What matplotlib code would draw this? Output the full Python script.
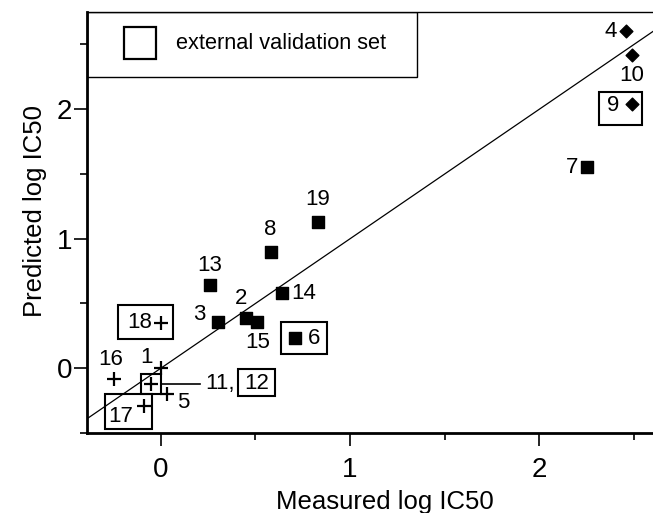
import matplotlib
matplotlib.use("Agg")
import matplotlib.pyplot as plt
from matplotlib.patches import Rectangle
from matplotlib.transforms import ScaledTranslation

plt.rcParams['font.family'] = ['Liberation Sans', 'DejaVu Sans']

# ---------- DATA -----------------------------------------------------------
compound_ids = [4, 10, 9, 7, 19, 8, 13, 3, 2, 15, 14, 6, 18, 16, 1, 11, 5, 17]
measured = [2.46, 2.49, 2.49, 2.25, 0.83, 0.58, 0.26, 0.30, 0.45, 0.51,
            0.64, 0.71, 0.00, -0.25, 0.00, -0.05, 0.03, -0.09]
predicted = [2.60, 2.42, 2.04, 1.55, 1.13, 0.90, 0.64, 0.36, 0.39, 0.36,
             0.58, 0.23, 0.35, -0.08, 0.00, -0.12, -0.20, -0.29]
groups = ['D', 'D', 'D', 'S', 'S', 'S', 'S', 'S', 'S', 'S',
          'S', 'S', 'P', 'P', 'P', 'P', 'P', 'P']
fit_x = [-0.39, 2.60]
fit_y = [-0.39, 2.60]
# ---------------------------------------------------------------------------

MARKERS = {'S': dict(marker='s', s=80),
           'D': dict(marker='D', s=42),
           'P': dict(marker='+', s=90, linewidths=1.6)}

# label offsets in inches (at dpi 100 -> pixels / 100)
LABEL_POS = {
    4: (-0.16, 0.0), 10: (0.0, -0.21), 9: (-0.19, -0.02), 7: (-0.15, 0.0),
    19: (0.0, 0.22), 8: (0.0, 0.22), 13: (0.0, 0.20), 3: (-0.18, 0.07),
    2: (-0.05, 0.19), 15: (0.0, -0.21), 14: (0.22, 0.0), 6: (0.19, 0.0),
    18: (-0.21, 0.0), 16: (-0.03, 0.19), 1: (-0.14, 0.11), 5: (0.17, -0.08),
    17: (-0.23, -0.11),
}
BOXES = {9: (-0.33, -0.21, 0.43, 0.33), 6: (-0.14, -0.16, 0.46, 0.32),
         18: (-0.43, -0.16, 0.55, 0.34), 17: (-0.39, -0.23, 0.47, 0.35),
         11: (-0.10, -0.10, 0.20, 0.20)}

fig = plt.figure(figsize=(6.53, 5.13), dpi=100)
ax = fig.add_axes([87 / 653, 80 / 513, 566 / 653, 421 / 513])


def near(x, y):
    return fig.dpi_scale_trans + ScaledTranslation(x, y, ax.transData)


ax.plot(fit_x, fit_y, color='black', lw=0.9)

for g, kw in MARKERS.items():
    xs = [m for m, gg in zip(measured, groups) if gg == g]
    ys = [p for p, gg in zip(predicted, groups) if gg == g]
    ax.scatter(xs, ys, color='black', zorder=3, **kw)

for cid, mx, py in zip(compound_ids, measured, predicted):
    tr = near(mx, py)
    if cid in LABEL_POS:
        dx, dy = LABEL_POS[cid]
        ax.text(dx, dy, str(cid), transform=tr, ha='center', va='center',
                fontsize=16)
    if cid in BOXES:
        x0, y0, w, h = BOXES[cid]
        ax.add_patch(Rectangle((x0, y0), w, h, transform=tr, fill=False,
                               lw=1.5, ec='black', clip_on=False, zorder=4))
    if cid == 11:
        ax.plot([0.10, 0.49], [0, 0], transform=tr, color='black', lw=1.2)
        ax.text(0.54, 0.0, "11,", transform=tr, ha='left', va='center',
                fontsize=16)
        ax.text(1.055, 0.0, "12", transform=tr, ha='center', va='center',
                fontsize=16)
        ax.add_patch(Rectangle((0.87, -0.12), 0.37, 0.27, transform=tr,
                               fill=False, lw=1.5, ec='black', clip_on=False))

# legend box
ax.add_patch(Rectangle((0, 0.846), 0.583, 0.154, transform=ax.transAxes,
                       fill=False, lw=1.0, ec='black', zorder=5))
ax.plot([0.0936], [0.926], marker='s', markersize=23, mfc='none', mec='black',
        mew=1.6, transform=ax.transAxes)
ax.text(0.157, 0.926, "external validation set", transform=ax.transAxes,
        ha='left', va='center', fontsize=15.7)

ax.set_xlim(-0.39, 2.60)
ax.set_ylim(-0.50, 2.75)
ax.set_xticks([0, 1, 2])
ax.set_xticks([0.5, 1.5, 2.5], minor=True)
ax.set_yticks([0, 1, 2])
ax.set_yticks([-0.5, 0.5, 1.5, 2.5], minor=True)
ax.tick_params(which='both', direction='out', width=1.2,
               labelsize=20, colors='black')
ax.tick_params(which='major', length=9.5)
ax.tick_params(which='minor', length=5)
ax.tick_params(axis='x', pad=7.5)
ax.tick_params(axis='y', pad=1)

ax.spines['right'].set_visible(False)
ax.spines['top'].set_linewidth(1.0)
ax.spines['left'].set_linewidth(2.0)
ax.spines['bottom'].set_linewidth(2.0)

ax.set_xlabel("Measured log IC50", fontsize=18.5)
ax.set_ylabel("Predicted log IC50", fontsize=18.5)
ax.xaxis.set_label_coords(0.527, -0.135)
ax.yaxis.set_label_coords(-0.0707, 0.527)

fig.savefig("out.png", dpi=100)
